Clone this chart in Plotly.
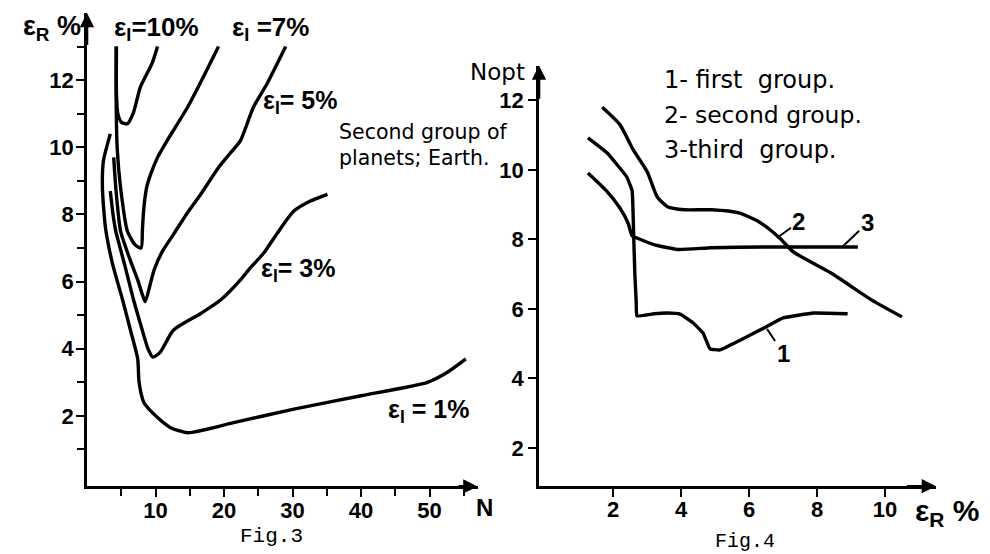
import plotly.graph_objects as go

W, H = 990, 554

# ---------------- Fig.3 data: eps_R (%) vs N, one curve per eps_I ----------------
n_10 = [4.3, 4.3, 4.5, 5.0, 5.9, 6.8, 7.8, 9.5, 10.3]
e_10 = [13.0, 11.6, 11.0, 10.75, 10.7, 11.05, 11.8, 12.5, 13.0]

n_7 = [4.25, 4.25, 4.4, 4.9, 5.9, 7.0, 7.9, 8.1, 8.3, 8.7, 9.3, 10.3, 11.7, 14.7, 17.0, 19.2]
e_7 = [13.0, 11.5, 10.0, 8.8, 7.5, 7.1, 7.0, 7.6, 8.2, 8.8, 9.2, 9.7, 10.2, 11.2, 12.1, 13.0]

n_5 = [3.9, 4.2, 4.9, 6.2, 7.4, 8.1, 8.5, 9.2, 9.8, 11.0, 12.6, 14.5, 16.6, 19.2, 20.8, 22.4, 24.3, 26.3, 29.0]
e_5 = [9.7, 8.8, 7.5, 6.7, 6.05, 5.6, 5.4, 5.9, 6.35, 6.9, 7.4, 8.0, 8.6, 9.4, 9.8, 10.2, 11.2, 11.9, 13.0]

n_3 = [3.4, 3.8, 4.2, 5.5, 6.8, 8.0, 8.9, 9.6, 10.7, 12.6, 16.6, 19.5, 22.4, 23.6, 25.8, 27.8, 30.2, 32.6, 35.1]
e_3 = [8.7, 8.0, 7.5, 6.5, 5.45, 4.6, 4.0, 3.75, 3.9, 4.55, 5.05, 5.45, 6.05, 6.35, 6.85, 7.45, 8.1, 8.4, 8.6]

n_1 = [3.4, 2.4, 2.25, 2.7, 3.7, 5.2, 6.35, 7.4, 7.6, 8.3, 10.3, 12.2, 14.7, 21.4, 30.2, 40.0, 49.7, 52.6, 55.3]
e_1 = [10.4, 9.6, 8.8, 7.6, 6.55, 5.45, 4.55, 3.7, 3.0, 2.4, 1.95, 1.65, 1.5, 1.8, 2.2, 2.6, 3.0, 3.3, 3.7]

fig3_xticks = [10, 20, 30, 40, 50]
fig3_xminor = [5, 15, 25, 35, 45, 55]
fig3_yticks = [2, 4, 6, 8, 10, 12]
fig3_yminor = [1, 3, 5, 7, 9, 11, 13]

# ---------------- Fig.4 data: N_opt vs eps_R (%) ----------------
x_g1 = [1.26, 1.82, 2.4, 2.56, 2.6, 2.64, 2.68, 2.7, 3.2, 3.6, 3.97, 4.35, 4.65, 4.85, 5.15, 5.74, 6.5, 7.0, 7.9, 8.9]
y_g1 = [10.92, 10.49, 9.8, 9.4, 8.3, 7.0, 6.2, 5.8, 5.86, 5.88, 5.85, 5.6, 5.3, 4.85, 4.82, 5.1, 5.48, 5.74, 5.88, 5.86]

x_g2 = [1.68, 2.2, 2.59, 3.0, 3.3, 3.6, 4.1, 4.9, 5.7, 6.3, 6.9, 7.3, 8.4, 9.6, 10.5]
y_g2 = [11.8, 11.3, 10.58, 9.95, 9.22, 8.94, 8.85, 8.85, 8.76, 8.5, 8.04, 7.64, 7.04, 6.26, 5.77]

x_g3 = [1.26, 1.8, 2.2, 2.44, 2.56, 2.7, 3.2, 3.9, 4.9, 6.4, 7.9, 9.2]
y_g3 = [9.91, 9.4, 8.9, 8.47, 8.1, 8.04, 7.85, 7.71, 7.76, 7.78, 7.78, 7.78]

fig4_xticks = [2, 4, 6, 8, 10]
fig4_yticks = [2, 4, 6, 8, 10, 12]

# ---------------- figure ----------------
HAND = "Liberation Sans, Arial, sans-serif"
TEXT = "DejaVu Sans, sans-serif"
MONO = "Liberation Mono, DejaVu Sans Mono, monospace"
LW = 3.4

fig = go.Figure()


def curve(x, y, xa, ya, smooth=0.6):
    fig.add_trace(go.Scatter(
        x=x, y=y, mode="lines", xaxis=xa, yaxis=ya, showlegend=False,
        line=dict(color="black", width=LW, shape="spline", smoothing=smooth),
        hoverinfo="skip"))


for xs, ys in [(n_10, e_10), (n_7, e_7), (n_5, e_5), (n_3, e_3), (n_1, e_1)]:
    curve(xs, ys, "x", "y")

curve(x_g1, y_g1, "x2", "y2", 0.3)
curve(x_g2, y_g2, "x2", "y2")
curve(x_g3, y_g3, "x2", "y2", 0.5)

tickfont = dict(family=HAND, size=22, color="black", weight="bold")


def axis(domain, rng, tickvals, minorvals=None, anchor=None, standoff=0):
    d = dict(domain=domain, range=rng, tickvals=tickvals, showgrid=False,
             zeroline=False, showline=True, linecolor="black", linewidth=2.6,
             ticks="outside", ticklen=8, tickwidth=2.4, tickcolor="black",
             tickfont=tickfont, anchor=anchor, fixedrange=True,
             ticklabelstandoff=standoff)
    if minorvals:
        d["minor"] = dict(tickvals=minorvals, ticks="outside", ticklen=7,
                          tickwidth=2.2, tickcolor="black", showgrid=False)
    return d


def px_x(p):
    return p / W


def px_y(p):
    return 1 - p / H


fig.update_layout(
    width=W, height=H, margin=dict(l=0, r=0, t=0, b=0),
    paper_bgcolor="white", plot_bgcolor="white",
    xaxis=axis([px_x(87), px_x(477.5)], [0, 57], fig3_xticks, fig3_xminor, "y", -6),
    yaxis=axis([px_y(486.4), px_y(13)], [-0.1, 14.0], fig3_yticks, fig3_yminor, "x", -2),
    xaxis2=axis([px_x(539), px_x(936)], [-0.18, 11.5], fig4_xticks, None, "y2", -6),
    yaxis2=axis([px_y(486.2), px_y(65.5)], [0.9, 13.0], fig4_yticks, None, "x2", 0),
)

ann = []


def arrow(x, y, ax, ay, xr, yr):
    ann.append(dict(x=x, y=y, ax=ax, ay=ay, xref=xr, yref=yr, axref=xr, ayref=yr,
                    text="", showarrow=True, arrowhead=2, arrowsize=1.1,
                    arrowwidth=2.6, arrowcolor="black", standoff=0))


arrow(0, 14.0, 0, 13.0, "x", "y")
arrow(57, -0.1, 54, -0.1, "x", "y")
arrow(-0.18, 13.0, -0.18, 12.0, "x2", "y2")
arrow(11.5, 0.9, 10.6, 0.9, "x2", "y2")


def label(text, xp, yp, size=24, family=HAND, anchor="center", weight="bold"):
    ann.append(dict(text=text, x=px_x(xp), y=px_y(yp), xref="paper", yref="paper",
                    showarrow=False, xanchor=anchor, yanchor="middle",
                    font=dict(family=family, size=size, color="black", weight=weight)))


# Fig.3 labels
label("ε<sub>R</sub> %", 52, 28, 27)
label("ε<sub>I</sub>=10%", 156, 29, 26)
label("ε<sub>I</sub> =7%", 270, 28, 26)
label("ε<sub>I</sub>= 5%", 300, 102, 25)
label("ε<sub>I</sub>= 3%", 298, 270, 25)
label("ε<sub>I</sub> = 1%", 428, 411, 25)
label("Second group of", 337, 132, 20.5, TEXT, anchor="left", weight="normal")
label("planets; Earth.", 337, 158, 20.5, TEXT, anchor="left", weight="normal")
label("N", 484, 507, 24)
label("Fig.3", 271, 536, 21, MONO, weight="normal")

# Fig.4 labels
label("Nopt", 497, 72, 23, TEXT, weight="normal")
label("1- first  group.", 662, 80, 24, TEXT, anchor="left", weight="normal")
label("2- second group.", 662, 115, 23.5, TEXT, anchor="left", weight="normal")
label("3-third  group.", 662, 150, 24, TEXT, anchor="left", weight="normal")
label("ε<sub>R</sub> %", 947, 512, 30)
label("Fig.4", 745, 541, 20, MONO, weight="normal")


def tag(text, x, y, axp, ayp):
    ann.append(dict(text=text, x=x, y=y, xref="x2", yref="y2", ax=axp, ay=ayp,
                    showarrow=True, arrowhead=0, arrowwidth=2, arrowcolor="black",
                    standoff=0, font=dict(family=HAND, size=24, color="black", weight="bold")))


tag("2", x_g2[10] - 0.08, y_g2[10], 22, -16)
tag("3", 8.74, y_g3[-1], 25, -24)
tag("1", 6.53, 5.42, 16, 24)

fig.update_layout(annotations=ann)
fig.write_html("out.html", config={"displayModeBar": False},
               post_script="document.body.style.margin='0px';")
